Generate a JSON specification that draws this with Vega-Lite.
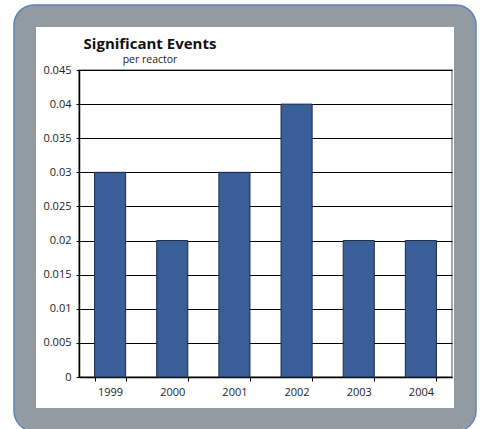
{
  "$schema": "https://vega.github.io/schema/vega-lite/v6.json",
  "width": 373,
  "height": 307,
  "autosize": {"type": "none"},
  "padding": {"left": 79, "top": 70, "right": 30, "bottom": 52},
  "background": "white",
  "title": {
    "text": "Significant Events",
    "subtitle": "per reactor",
    "anchor": "start",
    "frame": "group",
    "align": "center",
    "dx": 71,
    "font": "Open Sans",
    "fontSize": 15,
    "fontWeight": "bold",
    "color": "#111",
    "subtitleFont": "Open Sans",
    "subtitleFontSize": 10.5,
    "subtitleColor": "#222",
    "subtitlePadding": 3,
    "offset": -61
  },
  "config": {
    "view": {"stroke": "#8a8a8a", "strokeWidth": 1.5},
    "axis": {"labelFont": "Open Sans", "labelFontSize": 11, "labelColor": "#222"}
  },
  "layer": [
    {
      "data": {
        "values": [
          {"year": "1999", "value": 0.03},
          {"year": "2000", "value": 0.02},
          {"year": "2001", "value": 0.03},
          {"year": "2002", "value": 0.04},
          {"year": "2003", "value": 0.02},
          {"year": "2004", "value": 0.02}
        ]
      },
      "mark": {"type": "bar", "fill": "#3a5f98", "stroke": "#1c2b45", "strokeWidth": 1},
      "encoding": {
        "x": {
          "field": "year",
          "type": "ordinal",
          "scale": {"paddingInner": 0.5, "paddingOuter": 0.25},
          "axis": {
            "title": null,
            "labelAngle": 0,
            "tickBand": "extent",
            "domainColor": "#000",
            "domainWidth": 1.5,
            "tickColor": "#000",
            "tickSize": 4,
            "tickWidth": 1,
            "labelPadding": 5
          }
        },
        "y": {
          "field": "value",
          "type": "quantitative",
          "scale": {"domain": [0, 0.045], "nice": false},
          "axis": {
            "title": null,
            "values": [0, 0.005, 0.01, 0.015, 0.02, 0.025, 0.03, 0.035, 0.04, 0.045],
            "format": ".3~f",
            "grid": true,
            "gridColor": "#000",
            "gridWidth": 1,
            "gridOpacity": 1,
            "domainColor": "#000",
            "domainWidth": 1.5,
            "tickColor": "#000",
            "tickSize": 3,
            "labelPadding": 5
          }
        }
      }
    },
    {
      "data": {"values": [{}]},
      "mark": {"type": "rect", "fill": "white", "fillOpacity": 0, "stroke": "#939ba2", "strokeWidth": 22, "cornerRadius": 9},
      "encoding": {
        "x": {"value": -54},
        "x2": {"value": 386},
        "y": {"value": -54},
        "y2": {"value": 349}
      }
    },
    {
      "data": {"values": [{}]},
      "mark": {"type": "rect", "fill": "white", "fillOpacity": 0, "stroke": "#5d82b8", "strokeWidth": 1.5, "cornerRadius": 20},
      "encoding": {
        "x": {"value": -65},
        "x2": {"value": 397},
        "y": {"value": -65},
        "y2": {"value": 361}
      }
    }
  ]
}
